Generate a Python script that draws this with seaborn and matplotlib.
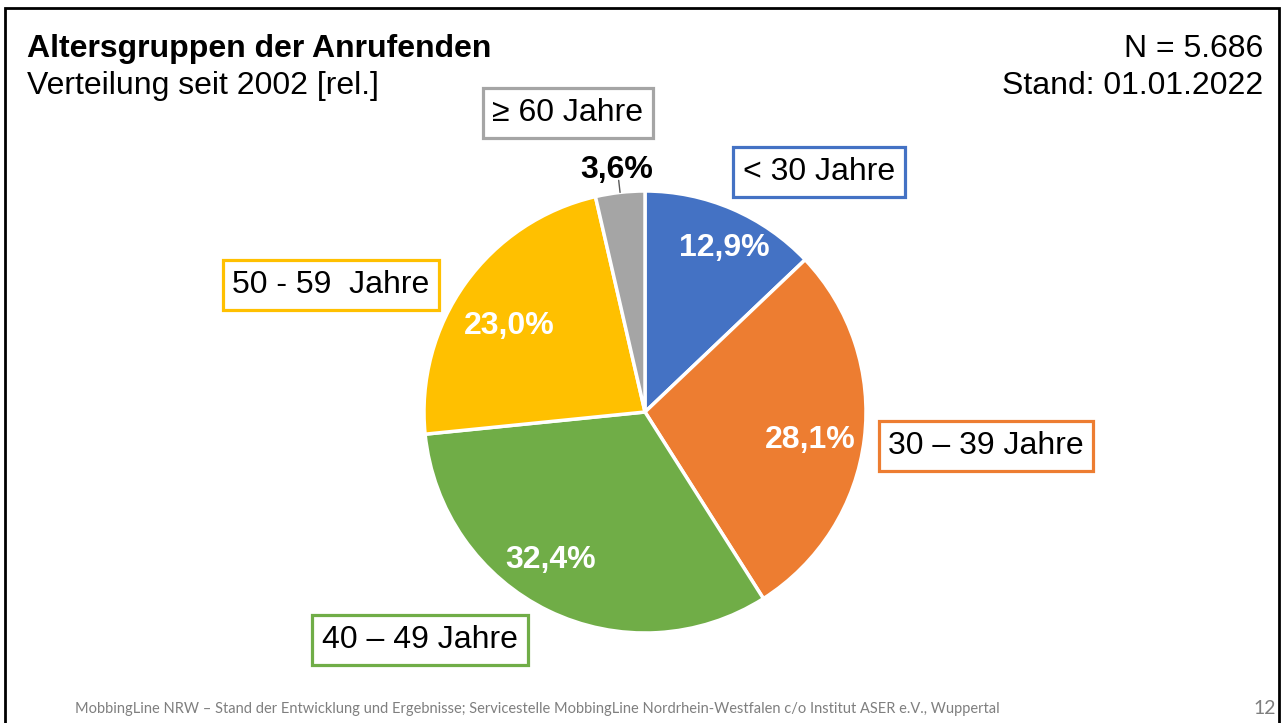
import numpy as np
import matplotlib
matplotlib.use("Agg")
from matplotlib import pyplot as plt
from matplotlib.patches import Rectangle
import seaborn as sns

# data
groups = ["< 30 Jahre", "30 – 39 Jahre", "40 – 49 Jahre", "50 - 59  Jahre", "≥ 60 Jahre"]
shares = [12.9, 28.1, 32.4, 23.0, 3.6]
colors = ["#4472C4", "#ED7D31", "#70AD47", "#FFC000", "#A5A5A5"]

title = "Altersgruppen der Anrufenden"
subtitle = "Verteilung seit 2002 [rel.]"
n_text = "N = 5.686"
stand_text = "Stand: 01.01.2022"
footer = ("MobbingLine NRW – Stand der Entwicklung und Ergebnisse; Servicestelle MobbingLine "
          "Nordrhein-Westfalen c/o Institut ASER e.V., Wuppertal")
page_no = "12"

sns.set_theme(style="white")
plt.rcParams["font.family"] = ["Liberation Sans", "DejaVu Sans"]
plt.rcParams["text.color"] = "black"

W, H = 1285, 723


def fx(px):
    return px / W


def fy(py):
    return 1 - py / H


fig = plt.figure(figsize=(W / 100, H / 100), dpi=100)
fig.patch.set_facecolor("white")

# slide frame
frame = Rectangle((fx(5), fy(760)), fx(1279) - fx(5), fy(8) - fy(760),
                  transform=fig.transFigure, fill=False, edgecolor="black",
                  linewidth=2, clip_on=False)
fig.add_artist(frame)

# pie, centre (645, 412), radius 221 px
cx, cy, r = 645, 412, 221
ax = fig.add_axes([fx(cx - r), fy(cy + r), 2 * r / W, 2 * r / H])
wedges, _ = ax.pie(shares, colors=colors, startangle=90, counterclock=False,
                   radius=1, wedgeprops=dict(edgecolor="white", linewidth=2.5))
ax.set_xlim(-1, 1)
ax.set_ylim(-1, 1)
ax.set_aspect("equal")
ax.axis("off")

# percentage labels (distance from centre, angle shift from wedge middle)
pct_dist = [0.836, 0.754, 0.78, 0.735, 1.116]
pct_shift = [-2.1, -1.3, -7.2, 2.4, 0.0]
for w, v, d, s in zip(wedges, shares, pct_dist, pct_shift):
    mid = (w.theta1 + w.theta2) / 2
    ang = np.deg2rad(mid + s)
    lbl = f"{v:.1f}".replace(".", ",") + "%"
    col = "white" if d < 1 else "black"
    ax.text(d * np.cos(ang), d * np.sin(ang), lbl, ha="center",
            va="center_baseline", fontsize=23, fontweight="bold", color=col)
    if d > 1:
        a0 = np.deg2rad(mid)
        ax.plot([np.cos(a0), 1.055 * np.cos(a0)], [np.sin(a0), 1.055 * np.sin(a0)],
                color="#595959", lw=1, clip_on=False)

# category boxes
box_pos = [(819, 172), (986, 446), (420, 640), (331, 285), (568, 113)]
for g, c, (px, py) in zip(groups, colors, box_pos):
    fig.text(fx(px), fy(py), g, ha="center", va="center", fontsize=23,
             color="black",
             bbox=dict(boxstyle="square,pad=0.3", facecolor="white",
                       edgecolor=c, linewidth=2.3))

# header
fig.text(fx(27), fy(57), title, ha="left", va="baseline", fontsize=23,
         fontweight="bold")
fig.text(fx(27), fy(94), subtitle, ha="left", va="baseline", fontsize=23)
fig.text(fx(1263), fy(57), n_text, ha="right", va="baseline", fontsize=23)
fig.text(fx(1263), fy(94), stand_text, ha="right", va="baseline", fontsize=23)

# footer
fig.text(fx(75), fy(709), footer, ha="left", va="center", fontsize=10.5,
         color="#7F7F7F", family=["Lato", "DejaVu Sans"])
fig.text(fx(1276), fy(708), page_no, ha="right", va="center", fontsize=14,
         color="#7F7F7F", family=["Lato", "DejaVu Sans"])

fig.savefig("out.png", dpi=100, facecolor="white")
